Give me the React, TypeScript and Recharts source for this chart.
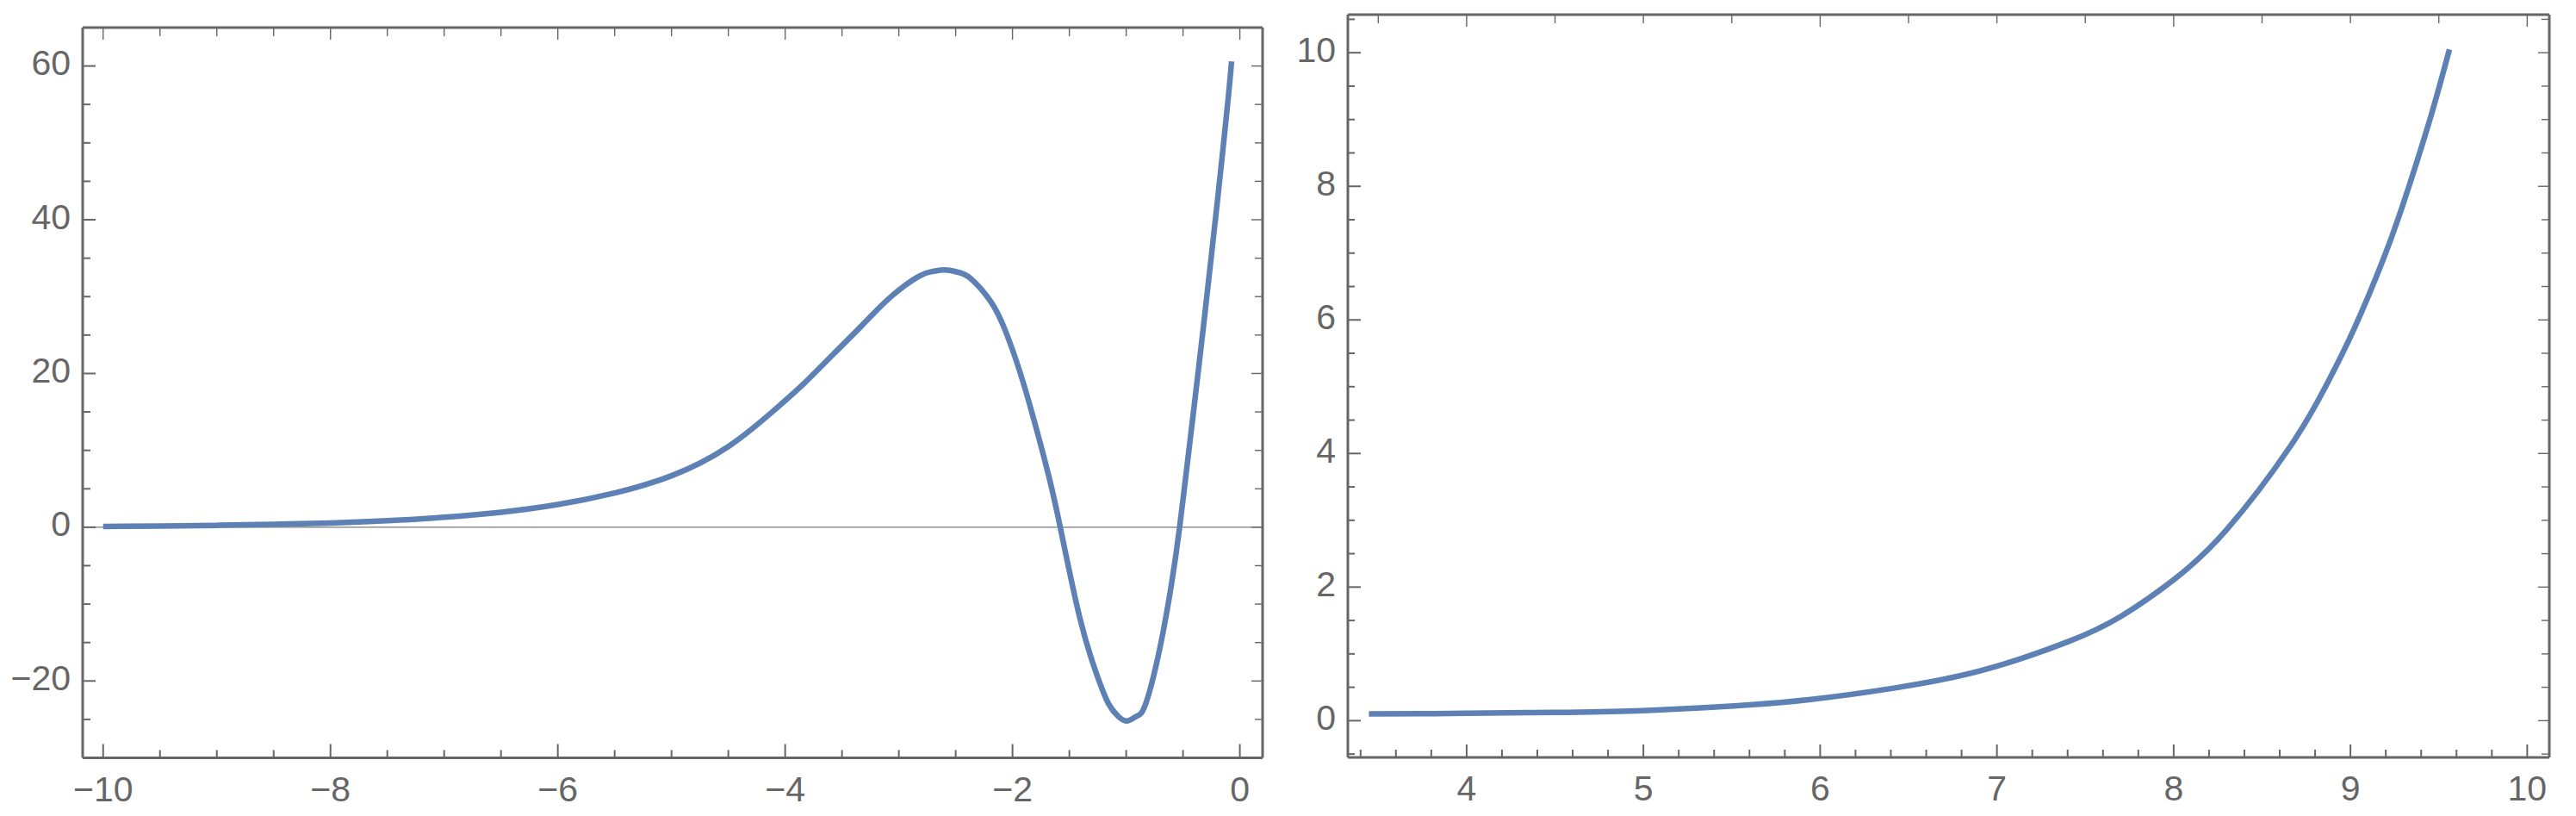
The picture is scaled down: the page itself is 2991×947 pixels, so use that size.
import React from 'react';
import { LineChart, Line, XAxis, YAxis, ReferenceLine } from 'recharts';

// ---------- data ----------
const leftX = [
  -10, -9.5, -9, -8.5, -8, -7.5, -7, -6.5, -6, -5.5, -5, -4.5, -4.086, -3.833, -3.58,
  -3.328, -3.074, -2.823, -2.7, -2.596, -2.48, -2.368, -2.192, -2.065, -1.939, -1.813,
  -1.686, -1.58, -1.409, -1.258, -1.156, -1.07, -0.992, -0.91, -0.828, -0.7, -0.6,
  -0.53, -0.45, -0.4, -0.35, -0.3, -0.25, -0.2, -0.15, -0.1, -0.073,
];
const leftY = [
  0.1, 0.15, 0.25, 0.38, 0.55, 0.85, 1.3, 1.95, 2.95, 4.45, 6.7, 10.5, 15.36, 18.72, 22.46,
  26.2, 29.93, 32.65, 33.28, 33.46, 33.18, 32.36, 29.37, 25.64, 20.4, 14.05,
  6.95, 0, -11.73, -19.2, -22.95, -24.6, -25.2, -24.6, -22.95, -15.47, -7.25,
  0, 9.8, 16, 22.3, 28.8, 35.4, 42.1, 49, 56.2, 60.6,
];
const rightX = [
  3.447, 3.75, 4.0, 4.5, 4.962, 5.45, 5.937, 6.424, 6.912, 7.4, 7.7, 8.0, 8.3, 8.658,
  8.861, 9.023, 9.186, 9.3, 9.445, 9.56,
];
const rightY = [
  0.1, 0.104, 0.11, 0.124, 0.148, 0.21, 0.315, 0.49, 0.75, 1.18, 1.56, 2.11, 2.86, 4.1,
  5.01, 5.88, 6.91, 7.75, 8.96, 10.05,
];

// ---------- ticks ----------
const range = (a: number, b: number, s: number) => {
  const out: number[] = [];
  const n = Math.round((b - a) / s);
  for (let i = 0; i <= n; i++) out.push(Math.round((a + i * s) * 1000) / 1000);
  return out;
};
const leftXMajor = [-10, -8, -6, -4, -2, 0];
const leftYMajor = [-20, 0, 20, 40, 60];
const rightXMajor = [4, 5, 6, 7, 8, 9, 10];
const rightXTopMajor = [4, 6, 8, 10];
const rightYMajor = [0, 2, 4, 6, 8, 10];
const leftXTicks = range(-10, 0, 0.5);
const leftYTicks = range(-25, 60, 5);
const rightXTicks = range(3.4, 10, 0.2);
const rightXTopTicks = range(3.5, 10, 0.5);
const rightYTicks = range(-0.5, 10.5, 0.5);

const leftData = leftX.map((x, i) => ({ x, y: leftY[i] }));
const rightData = rightX.map((x, i) => ({ x, y: rightY[i] }));

const GRAY = '#666666';
const BLUE = '#5E81B5';
const FONT = '"Liberation Sans", Arial, Helvetica, sans-serif';

const fmt = (v: number) => (v < 0 ? '\u2212' + String(Math.abs(v)) : String(v));

type Side = 'bottom' | 'top' | 'left' | 'right';
const makeTick = (side: Side, majors: number[], majorLen: number, minorLen: number, sw: number, label: boolean) =>
  (props: any) => {
    const { x, y, payload } = props;
    const v = payload.value as number;
    const major = majors.some((m) => Math.abs(m - v) < 1e-6);
    const len = major ? majorLen : minorLen;
    let x2 = x;
    let y2 = y;
    if (side === 'bottom') y2 = y - len;
    if (side === 'top') y2 = y + len;
    if (side === 'left') x2 = x + len;
    if (side === 'right') x2 = x - len;
    return (
      <g>
        <line x1={x} y1={y} x2={x2} y2={y2} stroke={GRAY} strokeWidth={sw} />
        {label && major && side === 'bottom' && (
          <text x={x} y={y + 50} textAnchor="middle" fontSize={41} fontFamily={FONT} fill={GRAY}>
            {fmt(v)}
          </text>
        )}
        {label && major && side === 'left' && (
          <text x={x - 14} y={y + 10.5} textAnchor="end" fontSize={41} fontFamily={FONT} fill={GRAY}>
            {fmt(v)}
          </text>
        )}
      </g>
    );
  };

const axisLine = { stroke: GRAY, strokeWidth: 3 };

export default function App() {
  return (
    <div style={{ position: 'absolute', left: 0, top: 0, width: 2991, height: 947, background: '#fff' }}>
      <div style={{ position: 'absolute', left: 0, top: 0 }}>
        <LineChart width={1500} height={947} margin={{ top: 0, right: 0, bottom: 0, left: 0 }}>
          <XAxis xAxisId="bottom" orientation="bottom" type="number" dataKey="x" domain={[-10.18, 0.2]}
            allowDataOverflow ticks={leftXTicks} interval={0} height={67.5} tickSize={0} tickMargin={0}
            axisLine={axisLine} tickLine={false} tick={makeTick('bottom', leftXMajor, 16, 9, 2, true)} />
          <XAxis xAxisId="top" orientation="top" type="number" dataKey="x" domain={[-10.18, 0.2]}
            allowDataOverflow ticks={leftXTicks} interval={0} height={32} tickSize={0} tickMargin={0}
            axisLine={axisLine} tickLine={false} tick={makeTick('top', leftXMajor, 14, 10, 1.4, false)} />
          <YAxis yAxisId="left" orientation="left" type="number" domain={[-30, 65]}
            allowDataOverflow ticks={leftYTicks} interval={0} width={96} tickSize={0} tickMargin={0}
            axisLine={axisLine} tickLine={false} tick={makeTick('left', leftYMajor, 15, 9, 2, true)} />
          <YAxis yAxisId="right" orientation="right" type="number" domain={[-30, 65]}
            allowDataOverflow ticks={leftYTicks} interval={0} width={34} tickSize={0} tickMargin={0}
            axisLine={axisLine} tickLine={false} tick={makeTick('right', leftYMajor, 13, 9, 1.4, false)} />
          <ReferenceLine xAxisId="bottom" yAxisId="left" y={0} stroke="#7a7a7a" strokeWidth={1.3} />
          <Line xAxisId="top" yAxisId="right" data={leftData} dataKey="y" type="natural" stroke="none"
            dot={false} activeDot={false} isAnimationActive={false} />
          <Line xAxisId="bottom" yAxisId="left" data={leftData} dataKey="y" type="natural" stroke={BLUE}
            strokeWidth={6.5} dot={false} activeDot={false} isAnimationActive={false} />
        </LineChart>
      </div>
      <div style={{ position: 'absolute', left: 1500, top: 0 }}>
        <LineChart width={1491} height={947} margin={{ top: 0, right: 0, bottom: 0, left: 0 }}>
          <XAxis xAxisId="bottom" orientation="bottom" type="number" dataKey="x" domain={[3.328, 10.125]}
            allowDataOverflow ticks={rightXTicks} interval={0} height={68} tickSize={0} tickMargin={0}
            axisLine={axisLine} tickLine={false} tick={makeTick('bottom', rightXMajor, 15, 9, 2, true)} />
          <XAxis xAxisId="top" orientation="top" type="number" dataKey="x" domain={[3.328, 10.125]}
            allowDataOverflow ticks={rightXTopTicks} interval={0} height={17} tickSize={0} tickMargin={0}
            axisLine={axisLine} tickLine={false} tick={makeTick('top', rightXTopMajor, 14, 10, 1.4, false)} />
          <YAxis yAxisId="left" orientation="left" type="number" domain={[-0.55, 10.57]}
            allowDataOverflow ticks={rightYTicks} interval={0} width={65} tickSize={0} tickMargin={0}
            axisLine={axisLine} tickLine={false} tick={makeTick('left', rightYMajor, 15, 8, 2, true)} />
          <YAxis yAxisId="right" orientation="right" type="number" domain={[-0.55, 10.57]}
            allowDataOverflow ticks={rightYTicks} interval={0} width={31} tickSize={0} tickMargin={0}
            axisLine={axisLine} tickLine={false} tick={makeTick('right', rightYMajor, 13, 9, 1.4, false)} />
          <Line xAxisId="top" yAxisId="right" data={rightData} dataKey="y" type="natural" stroke="none"
            dot={false} activeDot={false} isAnimationActive={false} />
          <Line xAxisId="bottom" yAxisId="left" data={rightData} dataKey="y" type="natural" stroke={BLUE}
            strokeWidth={6.5} dot={false} activeDot={false} isAnimationActive={false} />
        </LineChart>
      </div>
    </div>
  );
}
